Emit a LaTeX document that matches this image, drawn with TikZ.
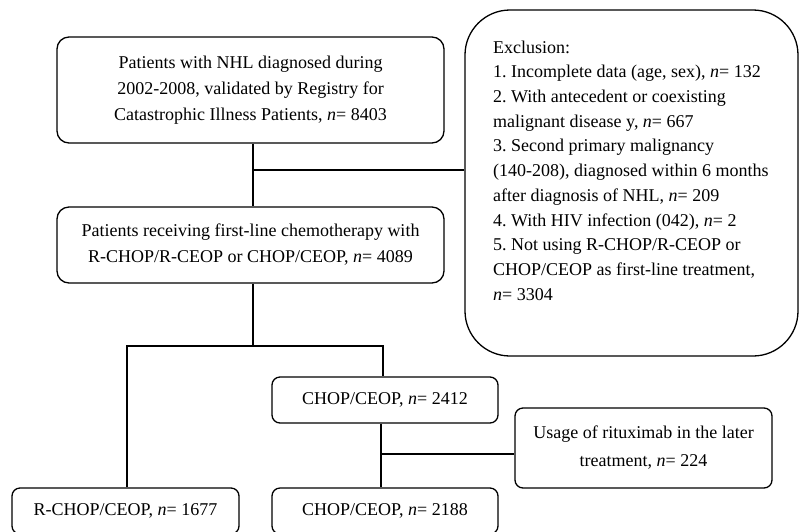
\documentclass[tikz,border=0pt]{standalone}
\usepackage{fontspec}
\setmainfont{Liberation Serif}
\frenchspacing
\begin{document}
\begin{tikzpicture}[x=1pt,y=-1pt,
  every node/.style={font=\fontsize{18}{26}\selectfont, inner sep=0pt},
  flowbox/.style={draw, line width=1.3pt, rounded corners=12pt, align=center},
  smallbox/.style={draw, line width=1.3pt, rounded corners=8pt, align=center, minimum height=46pt},
  exclbox/.style={draw, line width=1.3pt, rounded corners=45pt},
  excltext/.style={align=left, font=\fontsize{18}{24.7}\selectfont},
  conn/.style={line width=1.5pt},
  thickconn/.style={line width=2pt}]
\useasboundingbox (0,0) rectangle (800,531);
\fill[white] (0,0) rectangle (800,531);

\node[flowbox, minimum width=387pt, minimum height=106pt] (box1) at (250.5,90)
  {Patients with NHL diagnosed during\\2002-2008, validated by Registry for\\Catastrophic Illness Patients, \textit{n}= 8403};
\node[flowbox, minimum width=387pt, minimum height=76pt] (box2) at (250.5,245)
  {Patients receiving first-line chemotherapy with\\R-CHOP/R-CEOP or CHOP/CEOP, \textit{n}= 4089};

\node[exclbox, minimum width=333pt, minimum height=346pt] (excl) at (631.5,183) {};
\node[excltext, anchor=north west] (excltxt) at (493,40.5)
  {Exclusion:\\
   1. Incomplete data (age, sex), \textit{n}= 132\\
   2. With antecedent or coexisting\\
   malignant disease y, \textit{n}= 667\\
   3. Second primary malignancy\\
   (140-208), diagnosed within 6 months\\
   after diagnosis of NHL, \textit{n}= 209\\
   4. With HIV infection (042), \textit{n}= 2\\
   5. Not using R-CHOP/R-CEOP or\\
   CHOP/CEOP as first-line treatment,\\
   \textit{n}= 3304};

\node[smallbox, minimum width=226pt] (chop1) at (385,400) {CHOP/CEOP, \textit{n}= 2412};
\node[smallbox, minimum width=257pt, minimum height=80pt, font=\fontsize{18}{28}\selectfont] (usage) at (643.5,448)
  {Usage of rituximab in the later\\treatment, \textit{n}= 224};
\node[smallbox, minimum width=227pt] (rchop) at (125.5,511) {R-CHOP/CEOP, \textit{n}= 1677};
\node[smallbox, minimum width=226pt] (chop2) at (385,511) {CHOP/CEOP, \textit{n}= 2188};

\coordinate (j1) at (253,170);
\coordinate (j2) at (253,346);
\coordinate (j2l) at (127,346);
\coordinate (j2r) at (383,346);
\coordinate (j3) at (381,454);

\draw[conn] (j1 |- box1.south) -- (j1 |- box2.north);
\draw[thickconn] (j1) -- (j1 -| excl.west);
\draw[conn] (j2 |- box2.south) -- (j2);
\draw[conn] (j2l |- rchop.north) -- (j2l) -- (j2r) -- (j2r |- chop1.north);
\draw[conn] (j3 |- chop1.south) -- (j3 |- chop2.north);
\draw[conn] (j3) -- (j3 -| usage.west);
\end{tikzpicture}
\end{document}
